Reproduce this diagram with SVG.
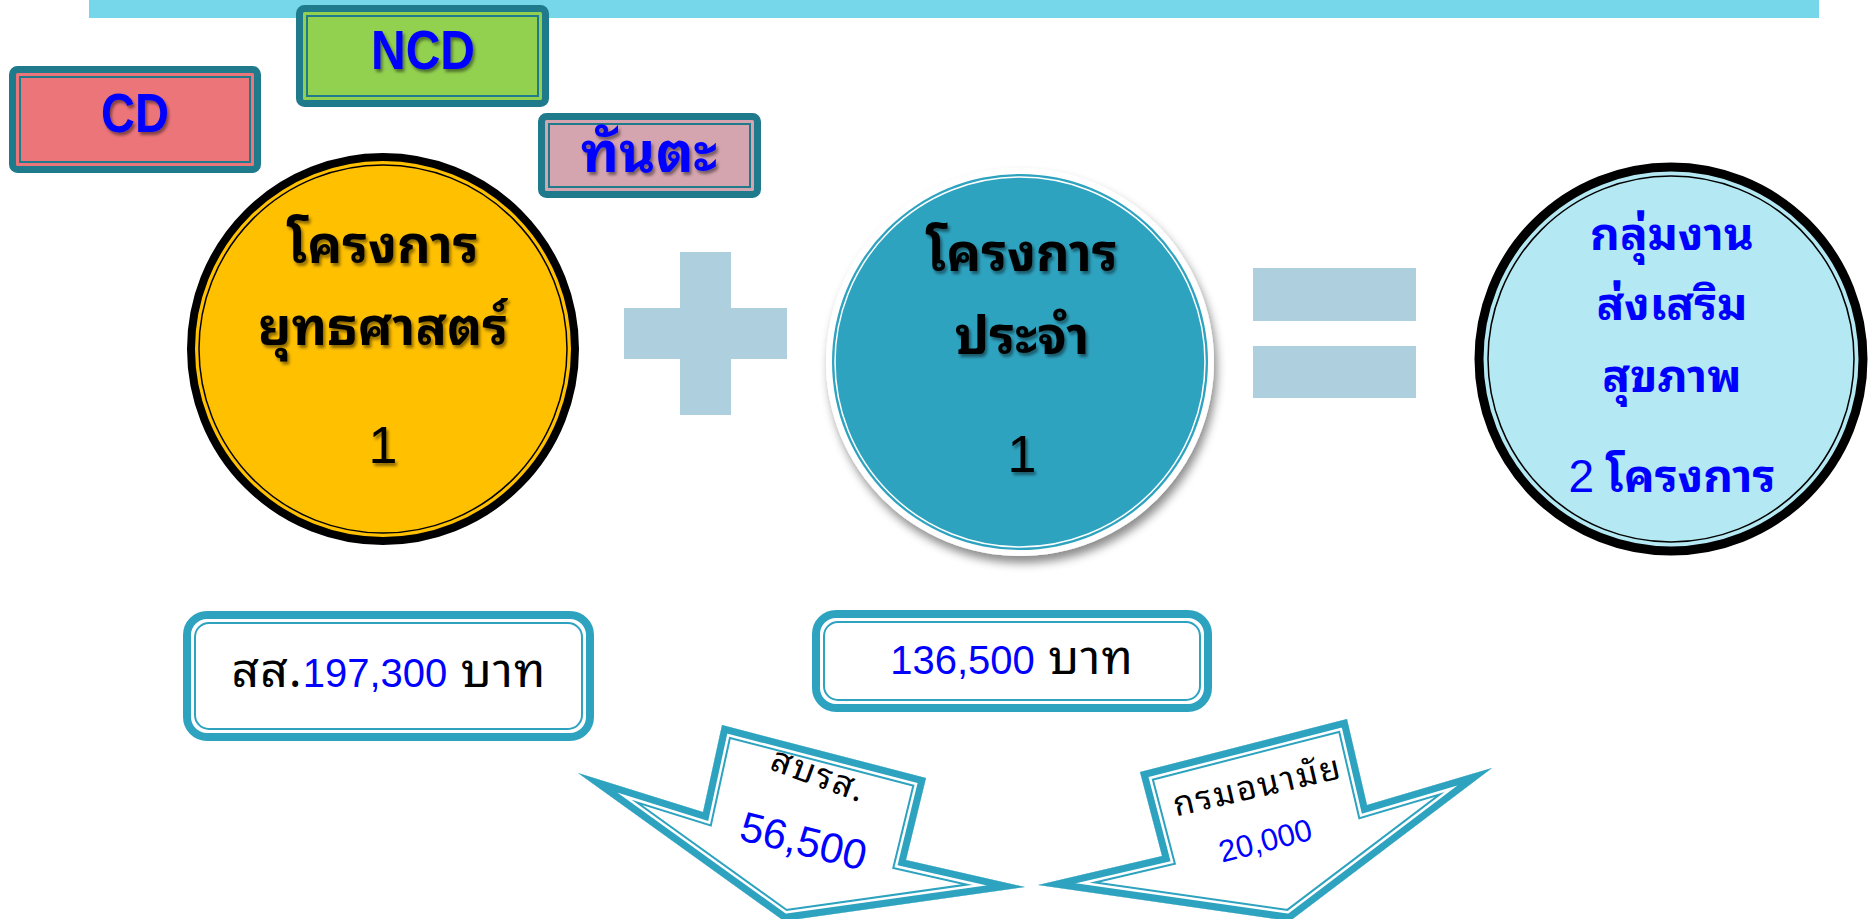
<svg xmlns="http://www.w3.org/2000/svg" width="1870" height="919" viewBox="0 0 1870 919">
<defs>
<style>
.th{font-family:'Noto Sans Thai Looped','Noto Serif Thai','Noto Sans Thai','Noto Sans','DejaVu Sans',sans-serif;}
.lat{font-family:'Liberation Sans',Arial,sans-serif;}
.tb{font-weight:bold;}
.boxo{stroke:#1F7A8C;stroke-width:7;}
.boxi{fill:none;stroke:#1F7A8C;stroke-width:2;}
.ttl{fill:#0000FF;font-weight:bold;text-anchor:middle;}
.ctr{text-anchor:middle;}
</style>
<filter id="tsh" x="-20%" y="-20%" width="140%" height="140%">
<feDropShadow dx="2" dy="3" stdDeviation="1.5" flood-color="#000" flood-opacity="0.45"/>
</filter>
<filter id="csh" x="-20%" y="-20%" width="140%" height="140%">
<feDropShadow dx="3" dy="7" stdDeviation="5" flood-color="#000" flood-opacity="0.45"/>
</filter>
<polygon id="arrL" points="722,725 926,778 906,860 1025,887 784,921 578,773 703,812"/>
<polygon id="arrR" points="1140,772 1347,719 1367,805 1492,768 1290,921 1038,885 1162,856"/>
<clipPath id="clipL"><use href="#arrL"/></clipPath>
<clipPath id="clipR"><use href="#arrR"/></clipPath>
</defs>
<rect x="89" y="0" width="1730" height="18" fill="#76D6EA"/>
<g id="cd">
<rect x="12.5" y="69.5" width="245" height="100" rx="5" fill="#EC7579" class="boxo"/>
<rect x="20" y="77" width="230" height="85" class="boxi"/>
<text x="135" y="132" class="lat ttl" font-size="55" textLength="68" lengthAdjust="spacingAndGlyphs" filter="url(#tsh)">CD</text>
</g>
<g id="ncd">
<rect x="299.5" y="8.5" width="246" height="95" rx="5" fill="#92D050" class="boxo"/>
<rect x="307" y="16" width="231" height="80" class="boxi"/>
<text x="423" y="69" class="lat ttl" font-size="55" textLength="104" lengthAdjust="spacingAndGlyphs" filter="url(#tsh)">NCD</text>
</g>
<g id="dental">
<rect x="541.5" y="116.5" width="216" height="78" rx="5" fill="#D5A5AF" class="boxo"/>
<rect x="549" y="124" width="201" height="63" class="boxi"/>
<text x="649" y="172" class="th ttl" font-size="56" filter="url(#tsh)">ทันตะ</text>
</g>
<g id="strategic">
<circle cx="383" cy="349" r="192" fill="#FFC000" stroke="#000" stroke-width="8"/>
<circle cx="383" cy="349" r="184" fill="none" stroke="#000" stroke-width="1.5"/>
<g filter="url(#tsh)" class="th tb ctr" font-size="52" fill="#000">
<text x="383" y="263">โครงการ</text>
<text x="383" y="345">ยุทธศาสตร์</text>
<text x="383" y="463" class="lat" font-weight="normal" font-size="52">1</text>
</g>
</g>
<g id="plus">
<rect x="680" y="252" width="51" height="163" fill="#AECFDE"/>
<rect x="624" y="308" width="163" height="51" fill="#AECFDE"/>
</g>
<g id="routine">
<circle cx="1020" cy="362" r="194" fill="#fff" filter="url(#csh)"/>
<circle cx="1020" cy="362" r="188" fill="#2EA3C0"/>
<circle cx="1020" cy="362" r="185" fill="none" stroke="#fff" stroke-width="1.5"/>
<g filter="url(#tsh)" class="th tb ctr" font-size="52" fill="#000">
<text x="1022" y="271">โครงการ</text>
<text x="1022" y="354">ประจำ</text>
<text x="1022" y="472" class="lat" font-weight="normal" font-size="52">1</text>
</g>
</g>
<g id="equals">
<rect x="1253" y="268" width="163" height="53" fill="#AECFDE"/>
<rect x="1253" y="346" width="163" height="52" fill="#AECFDE"/>
</g>
<g id="group">
<circle cx="1671" cy="359" r="192" fill="#B4E8F2" stroke="#000" stroke-width="9"/>
<circle cx="1671" cy="359" r="183" fill="none" stroke="#000" stroke-width="1.5"/>
<g class="th tb ctr" font-size="46" fill="#0000FF">
<text x="1672" y="250">กลุ่มงาน</text>
<text x="1672" y="320">ส่งเสริม</text>
<text x="1672" y="392">สุขภาพ</text>
<text x="1672" y="492"><tspan class="lat" font-weight="normal">2</tspan> โครงการ</text>
</g>
</g>
<g id="budget1">
<rect x="187" y="615" width="403" height="122" rx="20" fill="#fff" stroke="#2EA3C0" stroke-width="8"/>
<rect x="195" y="623" width="387" height="106" rx="14" fill="none" stroke="#2EA3C0" stroke-width="2"/>
<text x="389" y="687" class="th ctr" font-size="48" fill="#000" letter-spacing="1">สส.<tspan class="lat" font-size="40" letter-spacing="0" fill="#0000FF">197,300</tspan> บาท</text>
</g>
<g id="budget2">
<rect x="816" y="614" width="392" height="94" rx="20" fill="#fff" stroke="#2EA3C0" stroke-width="8"/>
<rect x="824" y="622" width="376" height="78" rx="14" fill="none" stroke="#2EA3C0" stroke-width="2"/>
<text x="1012" y="674" class="th ctr" font-size="48" fill="#000" letter-spacing="1"><tspan class="lat" font-size="40" letter-spacing="0" fill="#0000FF">136,500</tspan> บาท</text>
</g>
<g id="arrow-left">
<use href="#arrL" fill="#fff"/>
<g clip-path="url(#clipL)" fill="none" stroke-linejoin="miter" stroke-miterlimit="20">
<use href="#arrL" stroke="#2EA3C0" stroke-width="23"/>
<use href="#arrL" stroke="#fff" stroke-width="19"/>
<use href="#arrL" stroke="#2EA3C0" stroke-width="14"/>
</g>
<text transform="translate(815,786) rotate(20)" class="th ctr" font-size="35" letter-spacing="2" fill="#000">สบรส.</text>
<text transform="translate(800,855) rotate(14)" class="lat ctr" font-size="42" fill="#0000FF">56,500</text>
</g>
<g id="arrow-right">
<use href="#arrR" fill="#fff"/>
<g clip-path="url(#clipR)" fill="none" stroke-linejoin="miter" stroke-miterlimit="20">
<use href="#arrR" stroke="#2EA3C0" stroke-width="23"/>
<use href="#arrR" stroke="#fff" stroke-width="19"/>
<use href="#arrR" stroke="#2EA3C0" stroke-width="14"/>
</g>
<text transform="translate(1260,797) rotate(-13)" class="th ctr" font-size="34" letter-spacing="2" fill="#000">กรมอนามัย</text>
<text transform="translate(1268,851) rotate(-14.5)" class="lat ctr" font-size="31" fill="#0000FF">20,000</text>
</g>
</svg>
